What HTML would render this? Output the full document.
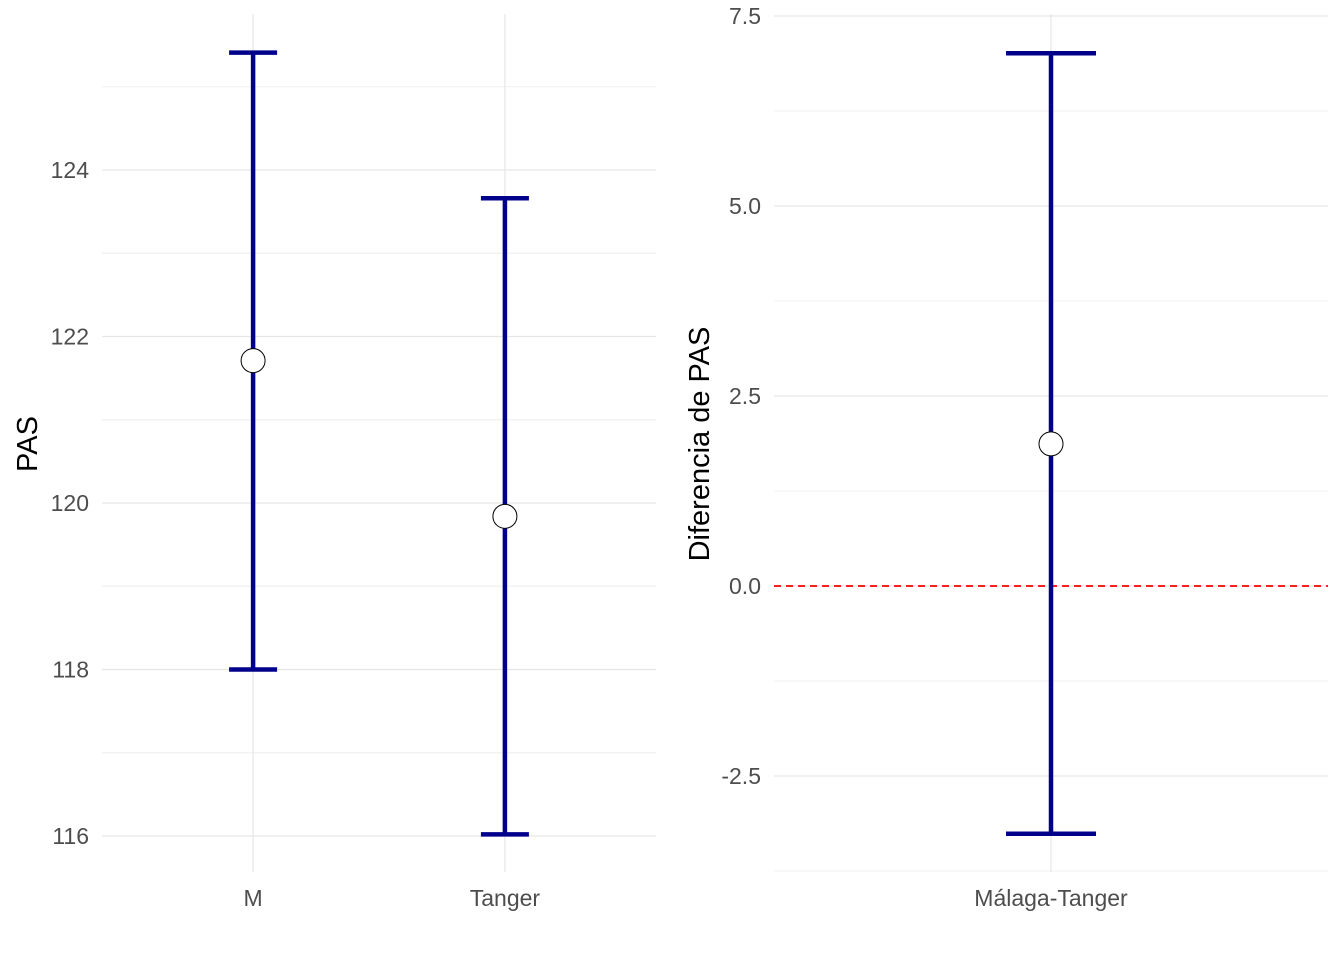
<!DOCTYPE html>
<html><head><meta charset="utf-8"><style>
body{margin:0;background:#fff}
svg{display:block;font-family:"Liberation Sans",sans-serif}
</style></head><body>
<svg id="c" width="1344" height="960"></svg>
<script>
const leftCats=["M","Tanger"];
const leftMean=[121.71,119.84];
const leftLow=[118.0,116.02];
const leftHigh=[125.41,123.66];
const leftTicks=[116,118,120,122,124];
const rightCats=["Málaga-Tanger"];
const rightMean=[1.87];
const rightLow=[-3.26];
const rightHigh=[7.01];
const rightTicks=[-2.5,0.0,2.5,5.0,7.5];
const refLine=[0];

const svg=document.getElementById('c');
const NS='http://www.w3.org/2000/svg';
function mk(t,a,p){const e=document.createElementNS(NS,t);for(const k in a)e.setAttribute(k,a[k]);(p||svg).appendChild(e);return e;}

function panel(o){
  const g=mk('g',{});
  
  
  const y=v=>o.y0+(v-o.v0)*o.k;
  const n=o.cats.length, span=(n-1)+1.2;
  const xs=o.cats.map((c,i)=>o.x0+(o.x1-o.x0)*(0.6+i)/span);
  for(let i=0;i<o.ticks.length;i++){
    const t=o.ticks[i], step=o.ticks[1]-o.ticks[0];
    [t-step/2,t+step/2].forEach(m=>{const yy=y(m);if(yy>=o.top-2&&yy<=o.bot+2){
      const l=mk('line',{x1:o.x0,x2:o.x1,y1:yy,y2:yy,stroke:'#f0f0f0','stroke-width':1},g);
      }});
  }
  o.ticks.forEach(t=>{const yy=y(t);
    const l=mk('line',{x1:o.x0,x2:o.x1,y1:yy,y2:yy,stroke:'#e6e6e6','stroke-width':1.2},g);
    
    const tx=mk('text',{x:o.x0-13,y:yy+8,'text-anchor':'end','font-size':23,fill:'#4d4d4d'},g);
    tx.textContent=o.fmt(t);
    
  });
  xs.forEach((x,i)=>{
    const l=mk('line',{x1:x,x2:x,y1:o.top,y2:o.bot,stroke:'#e6e6e6','stroke-width':1.2},g);
    
    const tx=mk('text',{x:x,y:906,'text-anchor':'middle','font-size':23,fill:'#4d4d4d'},g);
    tx.textContent=o.cats[i];
    
  });
  if(o.ref) o.ref.forEach(r=>{
    const l=mk('line',{x1:o.x0,x2:o.x1,y1:y(r),y2:y(r),stroke:'#ff0000','stroke-width':1.8,'stroke-dasharray':'7,5'},g);
    
  });
  xs.forEach((x,i)=>{
    const eg=mk('g',{},g);
    
    
    const st={stroke:'#00008b','stroke-width':4.5};
    mk('line',Object.assign({x1:x,x2:x,y1:y(o.high[i]),y2:y(o.low[i])},st),eg);
    mk('line',Object.assign({x1:x-o.cap,x2:x+o.cap,y1:y(o.high[i]),y2:y(o.high[i])},st),eg);
    mk('line',Object.assign({x1:x-o.cap,x2:x+o.cap,y1:y(o.low[i]),y2:y(o.low[i])},st),eg);
    const c=mk('circle',{cx:x,cy:y(o.mean[i]),r:12,fill:'#fff',stroke:'#000','stroke-width':1},g);
    
  });
  const t=mk('text',{transform:`translate(${o.titleX},444) rotate(-90)`,'text-anchor':'middle','font-size':29,fill:'#000'},g);
  t.textContent=o.title;
  
}
panel({name:'left-panel',cats:leftCats,mean:leftMean,low:leftLow,high:leftHigh,ticks:leftTicks,
  x0:102,x1:656,y0:836,v0:116,k:-83.25,top:14,bot:872,cap:24,title:'PAS',titleX:37,fmt:v=>String(v)});
panel({name:'right-panel',cats:rightCats,mean:rightMean,low:rightLow,high:rightHigh,ticks:rightTicks,ref:refLine,
  x0:774,x1:1328,y0:586,v0:0,k:-76,top:14,bot:872,cap:45,title:'Diferencia de PAS',titleX:709,fmt:v=>v.toFixed(1)});
</script>
</body></html>
